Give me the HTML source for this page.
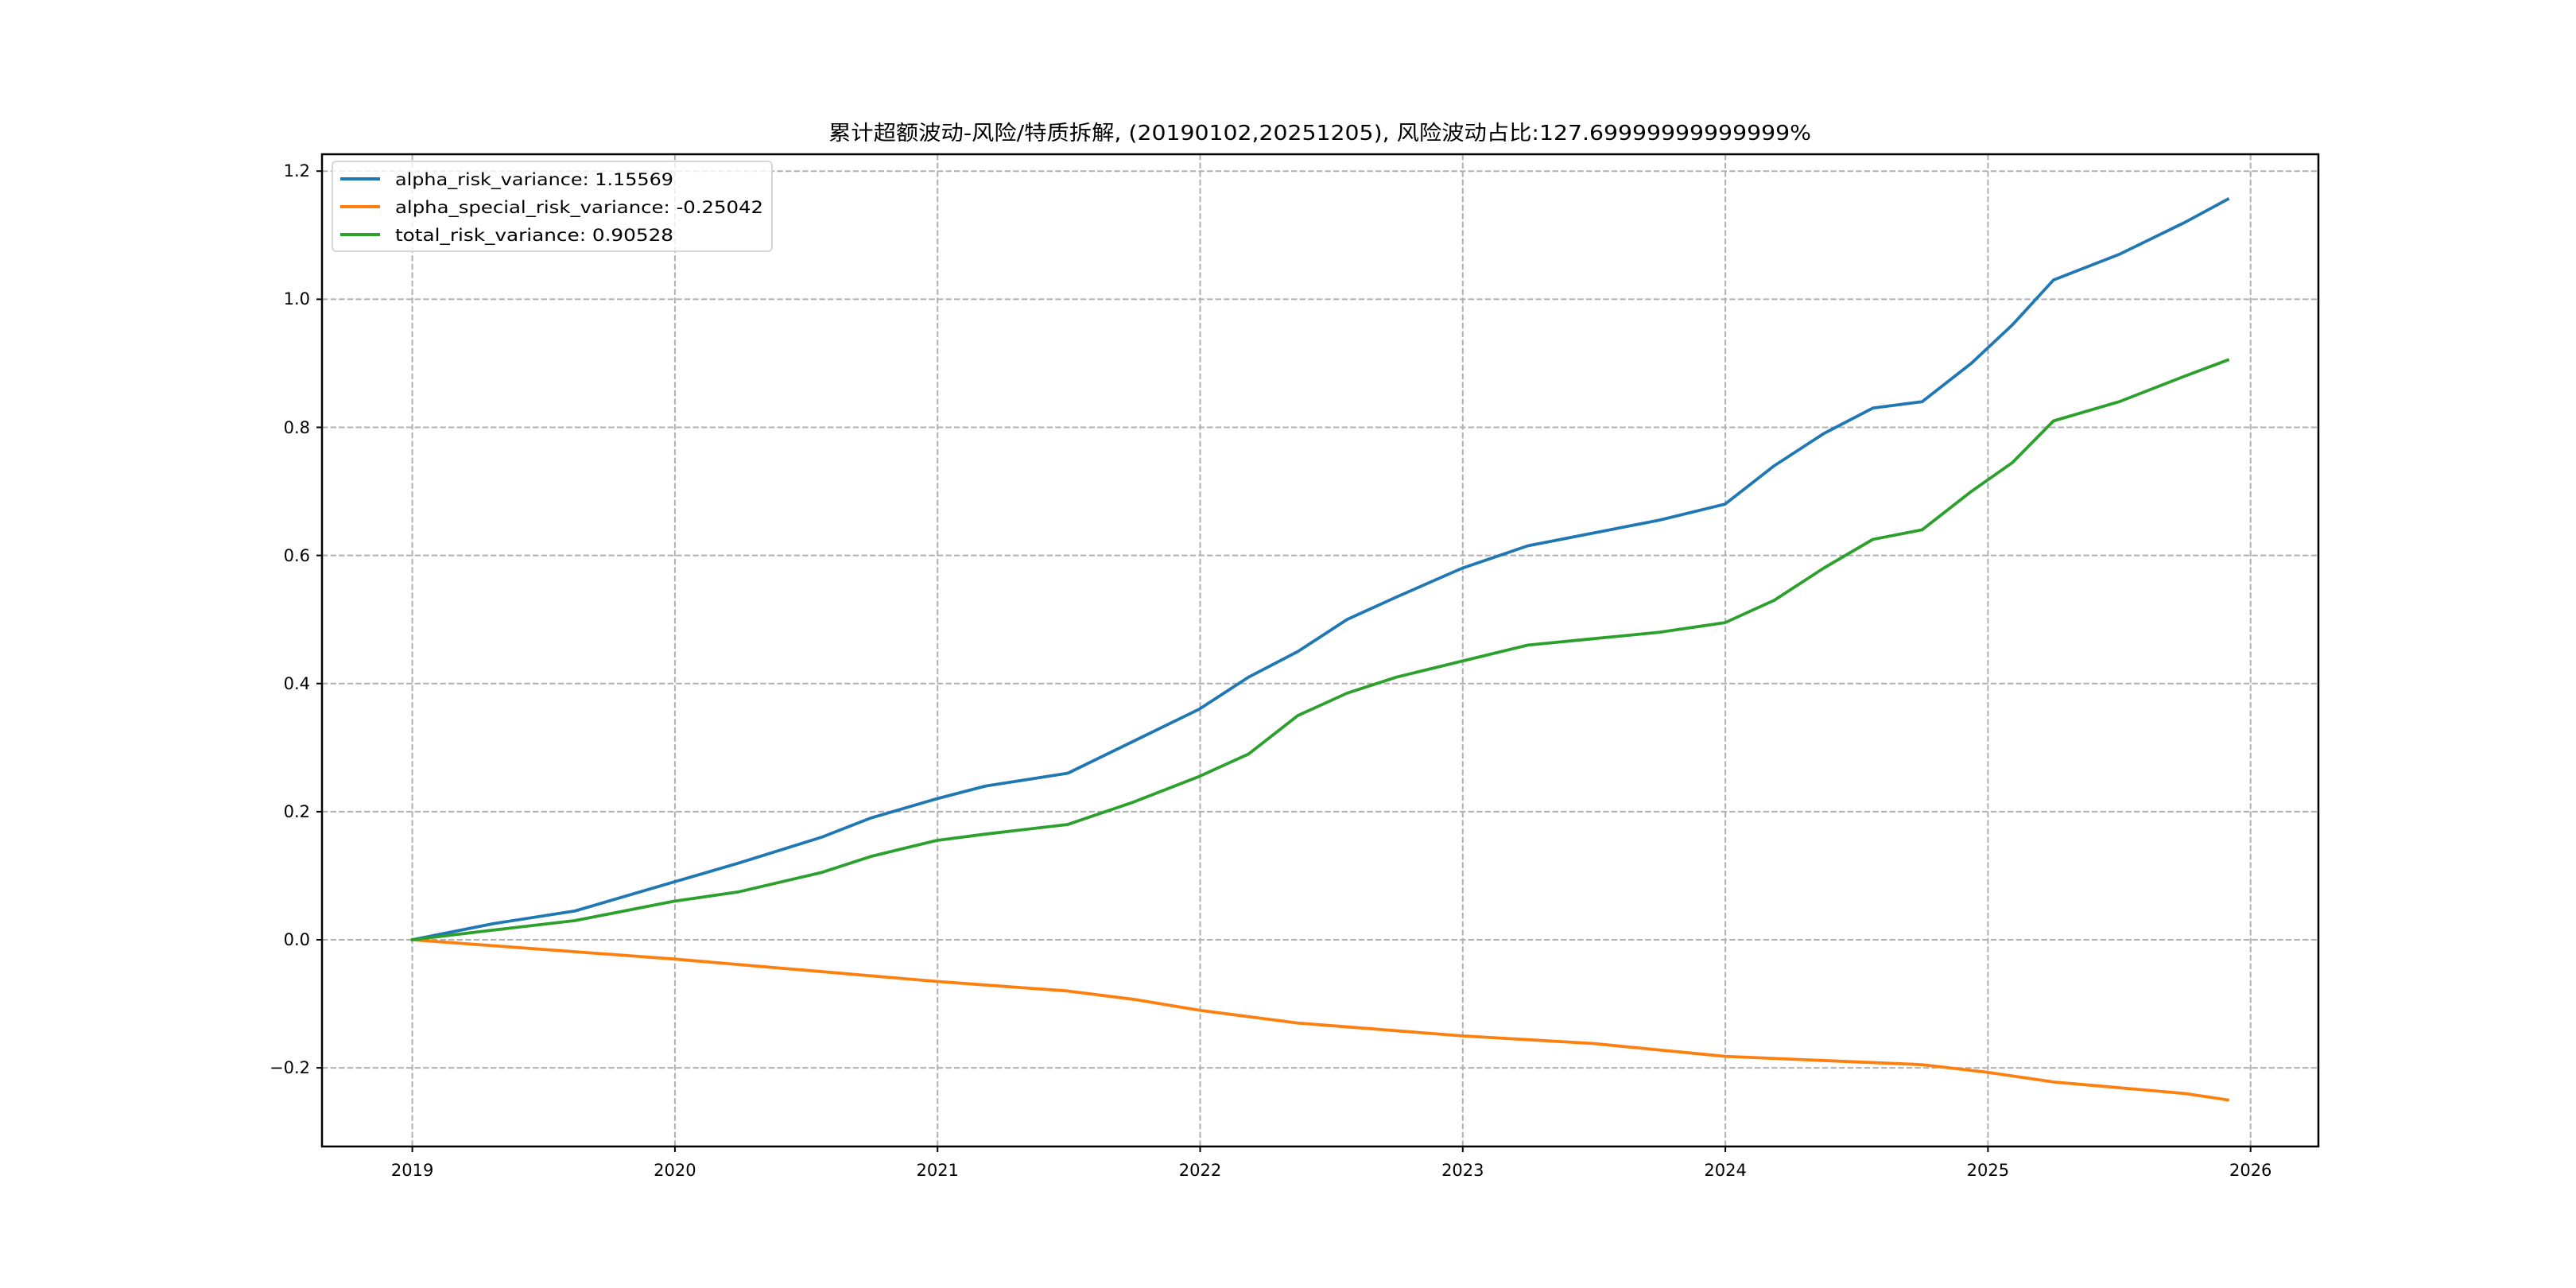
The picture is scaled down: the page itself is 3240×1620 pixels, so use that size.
<!DOCTYPE html>
<html><head><meta charset="utf-8"><style>
html,body{margin:0;padding:0;background:#fff}
svg{display:block}
text{font-family:"DejaVu Sans","Noto Sans CJK SC",sans-serif;fill:#000}
</style></head><body>
<svg width="3240" height="1620" viewBox="0 0 3240 1620" xmlns="http://www.w3.org/2000/svg">
<rect width="3240" height="1620" fill="#fff"/>
<!-- grid -->
<g stroke="#b0b0b0" stroke-width="2" stroke-dasharray="7.4,3.2" fill="none">
<line x1="518.6" y1="194" x2="518.6" y2="1442"/>
<line x1="848.9" y1="194" x2="848.9" y2="1442"/>
<line x1="1179.2" y1="194" x2="1179.2" y2="1442"/>
<line x1="1509.5" y1="194" x2="1509.5" y2="1442"/>
<line x1="1839.8" y1="194" x2="1839.8" y2="1442"/>
<line x1="2170.1" y1="194" x2="2170.1" y2="1442"/>
<line x1="2500.4" y1="194" x2="2500.4" y2="1442"/>
<line x1="2830.7" y1="194" x2="2830.7" y2="1442"/>
<line x1="405" y1="215.2" x2="2916" y2="215.2"/>
<line x1="405" y1="376.4" x2="2916" y2="376.4"/>
<line x1="405" y1="537.5" x2="2916" y2="537.5"/>
<line x1="405" y1="698.6" x2="2916" y2="698.6"/>
<line x1="405" y1="859.7" x2="2916" y2="859.7"/>
<line x1="405" y1="1020.9" x2="2916" y2="1020.9"/>
<line x1="405" y1="1182" x2="2916" y2="1182"/>
<line x1="405" y1="1343.1" x2="2916" y2="1343.1"/>
</g>
<!-- series -->
<g transform="translate(0,1182) scale(2.0663,-805.7)" fill="none" stroke-width="3.8" stroke-linejoin="round" stroke-linecap="square">
<polyline vector-effect="non-scaling-stroke" stroke="#1f77b4" points="251,0 300,0.025 350,0.045 410,0.09 450,0.12 500,0.16 530,0.19 570,0.22 600,0.24 650,0.26 690,0.31 730,0.36 760,0.41 790,0.45 820,0.5 850,0.535 890,0.58 930,0.615 970,0.635 1010,0.655 1050,0.68 1080,0.74 1110,0.79 1140,0.83 1170,0.84 1200,0.9 1225,0.96 1250,1.03 1290,1.07 1330,1.12 1356,1.156"/>
<polyline vector-effect="non-scaling-stroke" stroke="#ff7f0e" points="251,0 410,-0.03 570,-0.065 650,-0.08 690,-0.093 730,-0.11 790,-0.13 890,-0.15 970,-0.162 1050,-0.182 1170,-0.195 1210,-0.207 1250,-0.222 1330,-0.24 1356,-0.25"/>
<polyline vector-effect="non-scaling-stroke" stroke="#2ca02c" points="251,0 300,0.015 350,0.03 410,0.06 450,0.075 500,0.105 530,0.13 570,0.155 600,0.165 650,0.18 690,0.215 730,0.255 760,0.29 790,0.35 820,0.385 850,0.41 890,0.435 930,0.46 970,0.47 1010,0.48 1050,0.495 1080,0.53 1110,0.58 1140,0.625 1170,0.64 1200,0.7 1225,0.745 1250,0.81 1290,0.84 1330,0.88 1356,0.905"/>
</g>
<!-- axes frame -->
<rect x="405" y="194" width="2511" height="1248" fill="none" stroke="#000" stroke-width="2.5"/>
<!-- ticks -->
<g stroke="#000" stroke-width="2">
<line x1="518.6" y1="1442" x2="518.6" y2="1449"/><line x1="848.9" y1="1442" x2="848.9" y2="1449"/><line x1="1179.2" y1="1442" x2="1179.2" y2="1449"/><line x1="1509.5" y1="1442" x2="1509.5" y2="1449"/><line x1="1839.8" y1="1442" x2="1839.8" y2="1449"/><line x1="2170.1" y1="1442" x2="2170.1" y2="1449"/><line x1="2500.4" y1="1442" x2="2500.4" y2="1449"/><line x1="2830.7" y1="1442" x2="2830.7" y2="1449"/>
<line x1="398" y1="215.2" x2="405" y2="215.2"/><line x1="398" y1="376.4" x2="405" y2="376.4"/><line x1="398" y1="537.5" x2="405" y2="537.5"/><line x1="398" y1="698.6" x2="405" y2="698.6"/><line x1="398" y1="859.7" x2="405" y2="859.7"/><line x1="398" y1="1020.9" x2="405" y2="1020.9"/><line x1="398" y1="1182" x2="405" y2="1182"/><line x1="398" y1="1343.1" x2="405" y2="1343.1"/>
</g>
<g font-size="21" text-anchor="middle">
<text x="518.6" y="1479">2019</text><text x="848.9" y="1479">2020</text><text x="1179.2" y="1479">2021</text><text x="1509.5" y="1479">2022</text><text x="1839.8" y="1479">2023</text><text x="2170.1" y="1479">2024</text><text x="2500.4" y="1479">2025</text><text x="2830.7" y="1479">2026</text>
</g>
<g font-size="21" text-anchor="end">
<text x="390" y="222">1.2</text><text x="390" y="383">1.0</text><text x="390" y="545">0.8</text><text x="390" y="706">0.6</text><text x="390" y="867">0.4</text><text x="390" y="1028">0.2</text><text x="390" y="1189">0.0</text><text x="390" y="1350">−0.2</text>
</g>
<text x="1660" y="176" font-size="26" text-anchor="middle" textLength="1236" lengthAdjust="spacingAndGlyphs">累计超额波动-风险/特质拆解, (20190102,20251205), 风险波动占比:127.69999999999999%</text>
<!-- legend -->
<rect x="418" y="203" width="553" height="113" rx="5" fill="#fff" fill-opacity="0.8" stroke="#d6d6d6" stroke-width="2"/>
<g stroke-width="4">
<line x1="428" y1="225" x2="478" y2="225" stroke="#1f77b4"/>
<line x1="428" y1="260" x2="478" y2="260" stroke="#ff7f0e"/>
<line x1="428" y1="295" x2="478" y2="295" stroke="#2ca02c"/>
</g>
<g font-size="21">
<text x="497" y="233" textLength="350" lengthAdjust="spacingAndGlyphs">alpha_risk_variance: 1.15569</text>
<text x="497" y="268" textLength="463" lengthAdjust="spacingAndGlyphs">alpha_special_risk_variance: -0.25042</text>
<text x="497" y="303" textLength="350" lengthAdjust="spacingAndGlyphs">total_risk_variance: 0.90528</text>
</g>
</svg>
</body></html>
